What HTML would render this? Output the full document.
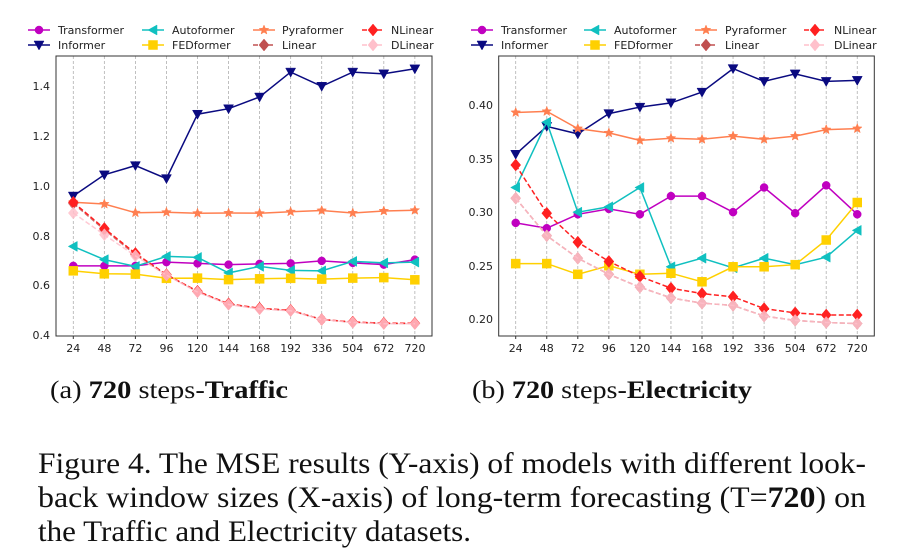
<!DOCTYPE html>
<html><head><meta charset="utf-8"><style>
html,body{margin:0;padding:0;background:#fff;width:912px;height:554px;overflow:hidden}
svg{display:block}
.t{font-family:"DejaVu Sans","Liberation Sans",sans-serif;font-size:11px;fill:#222}
.cap{font-family:"Liberation Serif",serif;fill:#111}
</style></head><body>
<svg id="s" width="912" height="554" viewBox="0 0 912 554" xmlns="http://www.w3.org/2000/svg">
<g id="g1"></g><g id="g2"></g>
<g class="t" text-anchor="end">
<text x="50" y="90">1.4</text><text x="50" y="190">1.0</text><text x="50" y="140">1.2</text>
<text x="50" y="240">0.8</text><text x="50" y="289">0.6</text><text x="50" y="339">0.4</text>
<text x="493" y="109">0.40</text><text x="493" y="163">0.35</text><text x="493" y="216">0.30</text>
<text x="493" y="270">0.25</text><text x="493" y="323">0.20</text>
</g>
<g class="t" text-anchor="middle">
<text x="73.3" y="352">24</text><text x="104.4" y="352">48</text><text x="135.4" y="352">72</text><text x="166.5" y="352">96</text><text x="197.5" y="352">120</text><text x="228.6" y="352">144</text><text x="259.7" y="352">168</text><text x="290.7" y="352">192</text><text x="321.8" y="352">336</text><text x="352.8" y="352">504</text><text x="383.9" y="352">672</text><text x="415" y="352">720</text>
<text x="515.7" y="352">24</text><text x="546.8" y="352">48</text><text x="577.8" y="352">72</text><text x="608.9" y="352">96</text><text x="639.9" y="352">120</text><text x="671" y="352">144</text><text x="702" y="352">168</text><text x="733.1" y="352">192</text><text x="764.1" y="352">336</text><text x="795.2" y="352">504</text><text x="826.2" y="352">672</text><text x="857.3" y="352">720</text>
</g>
<g class="t">
<text x="58" y="34">Transformer</text><text x="58" y="49">Informer</text>
<text x="172" y="34">Autoformer</text><text x="172" y="49">FEDformer</text>
<text x="282" y="34">Pyraformer</text><text x="282" y="49">Linear</text>
<text x="391" y="34">NLinear</text><text x="391" y="49">DLinear</text>
<text x="501" y="34">Transformer</text><text x="501" y="49">Informer</text>
<text x="614" y="34">Autoformer</text><text x="614" y="49">FEDformer</text>
<text x="725" y="34">Pyraformer</text><text x="725" y="49">Linear</text>
<text x="834" y="34">NLinear</text><text x="834" y="49">DLinear</text>
</g>
<g class="cap" font-size="25">
<text x="50" y="398" textLength="238" lengthAdjust="spacingAndGlyphs">(a) <tspan font-weight="bold">720</tspan> steps-<tspan font-weight="bold">Traffic</tspan></text>
<text x="472" y="398" textLength="280" lengthAdjust="spacingAndGlyphs">(b) <tspan font-weight="bold">720</tspan> steps-<tspan font-weight="bold">Electricity</tspan></text>
</g>
<g class="cap" font-size="30">
<text x="38" y="473" textLength="828" lengthAdjust="spacingAndGlyphs">Figure 4. The MSE results (Y-axis) of models with different look-</text>
<text x="38" y="507" textLength="828" lengthAdjust="spacingAndGlyphs">back window sizes (X-axis) of long-term forecasting (T=<tspan font-weight="bold">720</tspan>) on</text>
<text x="38" y="541" textLength="433" lengthAdjust="spacingAndGlyphs">the Traffic and Electricity datasets.</text>
</g>
</svg>
<script>
var NS="http://www.w3.org/2000/svg";
function el(p,n,a){var e=document.createElementNS(NS,n);for(var k in a)e.setAttribute(k,a[k]);p.appendChild(e);return e;}
function marker(p,type,x,y,c,op){
 var o={fill:c,stroke:c,"stroke-width":0.5,opacity:op||1};
 if(type=="o"){o.cx=x;o.cy=y;o.r=4;el(p,"circle",o);}
 else if(type=="v"){o.points=(x-5)+","+(y-4)+" "+(x+5)+","+(y-4)+" "+x+","+(y+5);el(p,"polygon",o);}
 else if(type=="<"){o.points=(x-5)+","+y+" "+(x+4)+","+(y-5)+" "+(x+4)+","+(y+5);el(p,"polygon",o);}
 else if(type=="s"){o.x=x-4.5;o.y=y-4.5;o.width=9;o.height=9;el(p,"rect",o);}
 else if(type=="*"){var pts=[];for(var i=0;i<10;i++){var r=i%2?2.2:5,a=-Math.PI/2+i*Math.PI/5;pts.push((x+r*Math.cos(a)).toFixed(1)+","+(y+r*Math.sin(a)).toFixed(1));}o.points=pts.join(" ");el(p,"polygon",o);}
 else if(type=="D"){o.points=x+","+(y-6)+" "+(x+5)+","+y+" "+x+","+(y+6)+" "+(x-5)+","+y;el(p,"polygon",o);}
}
var styles={
T:["#c000c0","o",0],I:["#0a0a80","v",0],A:["#10c0c0","<",0],F:["#ffd000","s",0],
P:["#ff7f50","*",0],L:["#c05050","D",1],N:["#ff2020","D",1],D:["#ffc0cb","D",1]};
function chart(g,x0,x1,y0,y1,xs,yf,data,legx){
 var X=function(i){return xs+i*31.05;};
 for(var i=0;i<12;i++)el(g,"line",{x1:X(i),x2:X(i),y1:y0,y2:y1,stroke:"#b0b0b0","stroke-dasharray":"3,2","stroke-width":0.8});
 ["T","I","A","F","P","L","N","D"].forEach(function(k){
  var s=styles[k],d=data[k],pts=d.map(function(v,i){return X(i).toFixed(1)+","+yf(v).toFixed(1);}).join(" ");
  var op=k=="D"?0.85:(k=="L"?0.8:1);
  el(g,"polyline",{points:pts,fill:"none",stroke:s[0],"stroke-width":1.5,"stroke-dasharray":s[2]?"5,2.5":"none",opacity:op});
  d.forEach(function(v,i){marker(g,s[1],X(i),yf(v),s[0],op);});
 });
 el(g,"rect",{x:x0,y:y0,width:x1-x0,height:y1-y0,fill:"none",stroke:"#333","stroke-width":1});
 var cols=[["T","I"],["A","F"],["P","L"],["N","D"]];
 cols.forEach(function(c,ci){c.forEach(function(k,ri){var s=styles[k],lx=legx[ci],ly=30+ri*15;
  el(g,"line",{x1:lx,x2:lx+22,y1:ly,y2:ly,stroke:s[0],"stroke-width":1.5,"stroke-dasharray":s[2]?"5,2.5":"none"});
  marker(g,s[1],lx+11,ly,s[0]);});});
 for(var i=0;i<12;i++)el(g,"line",{x1:X(i),x2:X(i),y1:y1,y2:y1+3,stroke:"#333"});
}
var L={T:[0.68,0.68,0.68,0.695,0.69,0.685,0.688,0.69,0.70,0.692,0.685,0.705],
I:[0.96,1.045,1.082,1.03,1.288,1.31,1.357,1.457,1.40,1.457,1.45,1.47],
A:[0.758,0.705,0.678,0.718,0.714,0.652,0.678,0.662,0.66,0.698,0.692,0.695],
F:[0.66,0.648,0.647,0.63,0.631,0.625,0.628,0.63,0.627,0.631,0.633,0.624],
P:[0.935,0.928,0.893,0.895,0.891,0.892,0.891,0.897,0.902,0.892,0.9,0.903],
N:[0.935,0.83,0.73,0.645,0.578,0.528,0.51,0.502,0.465,0.455,0.45,0.45],
L:[0.93,0.825,0.725,0.644,0.577,0.527,0.509,0.501,0.465,0.454,0.449,0.449],
D:[0.892,0.805,0.72,0.643,0.575,0.525,0.507,0.50,0.465,0.453,0.448,0.448]};
var R={T:[0.29,0.285,0.298,0.303,0.298,0.315,0.315,0.30,0.323,0.299,0.325,0.298],
I:[0.354,0.38,0.373,0.392,0.398,0.402,0.412,0.434,0.422,0.429,0.422,0.423],
A:[0.323,0.384,0.30,0.305,0.323,0.249,0.257,0.248,0.257,0.251,0.258,0.283],
F:[0.252,0.252,0.242,0.25,0.242,0.243,0.235,0.249,0.249,0.251,0.274,0.309],
P:[0.393,0.394,0.378,0.374,0.367,0.369,0.368,0.371,0.368,0.371,0.377,0.378],
N:[0.344,0.299,0.272,0.254,0.24,0.229,0.224,0.221,0.21,0.206,0.204,0.204],
L:[0.313,0.278,0.257,0.242,0.23,0.22,0.215,0.213,0.203,0.199,0.197,0.196],
D:[0.313,0.278,0.257,0.242,0.23,0.22,0.215,0.213,0.203,0.199,0.197,0.196]};
chart(document.getElementById("g1"),56,432,56,336,73.3,function(v){return 335.7-(v-0.4)*249.4;},L,[28,142,253,362]);
chart(document.getElementById("g2"),498.7,874.3,56,336,515.7,function(v){return 319.3-(v-0.2)*1071.5;},R,[471,584,695,804]);
</script>
</body></html>
